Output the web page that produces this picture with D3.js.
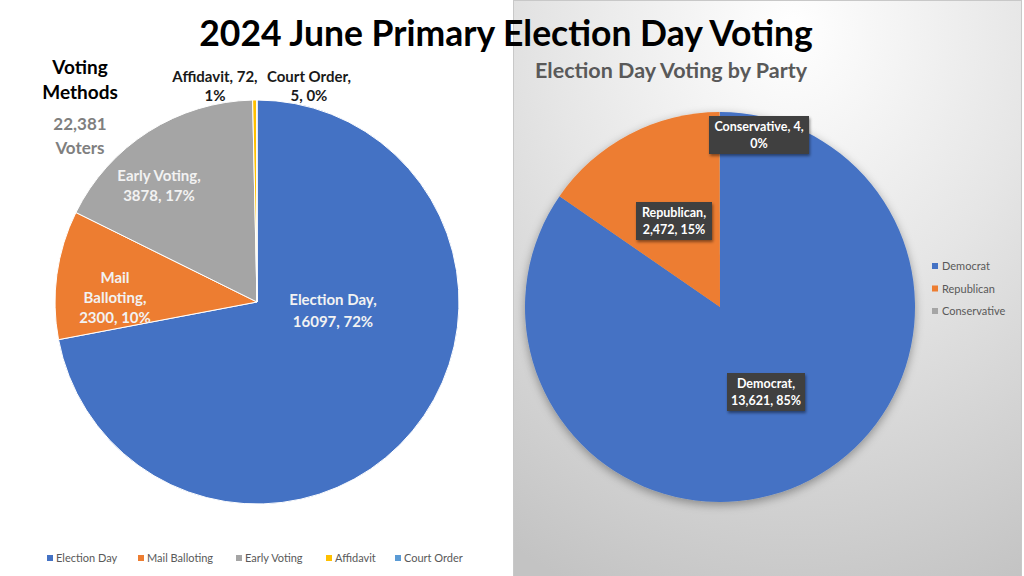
<!DOCTYPE html>
<html>
<head>
<meta charset="utf-8">
<script src="https://cdn.jsdelivr.net/npm/d3@7"></script>
<style>
  html, body { margin: 0; padding: 0; background: #fff; }
  svg { display: block; font-family: Lato, "Open Sans", sans-serif; }
</style>
</head>
<body>
<svg id="chart" width="1024" height="576"></svg>
<script>
'use strict'

// voting methods (left pie)
const methods = ['Election Day', 'Mail Balloting', 'Early Voting', 'Affidavit', 'Court Order'];
const methodVotes = [16097, 2300, 3878, 72, 5];
const methodPct = ['72%', '10%', '17%', '1%', '0%'];
const methodColors = ['#4472c4', '#ed7d31', '#a5a5a5', '#ffc000', '#5b9bd5'];

// election day by party (right pie)
const parties = ['Democrat', 'Republican', 'Conservative'];
const partyVotes = [13621, 2472, 4];
const partyPct = ['85%', '15%', '0%'];
const partyColors = ['#4472c4', '#ed7d31', '#a5a5a5'];

const totalVoters = '22,381';

const svg = d3.select('#chart');
const defs = svg.append('defs');

// right panel background
const grad = defs.append('radialGradient')
  .attr('id', 'panelBg')
  .attr('cx', '0.55').attr('cy', '0.05').attr('r', '1.05');
grad.append('stop').attr('offset', '0').attr('stop-color', '#ffffff');
grad.append('stop').attr('offset', '0.45').attr('stop-color', '#e6e6e6');
grad.append('stop').attr('offset', '1').attr('stop-color', '#c3c3c3');

const shadow = defs.append('filter').attr('id', 'pieShadow')
  .attr('x', '-20%').attr('y', '-20%').attr('width', '140%').attr('height', '140%');
shadow.append('feDropShadow')
  .attr('dx', 0).attr('dy', 3).attr('stdDeviation', 5)
  .attr('flood-color', '#000').attr('flood-opacity', 0.35);

const boxShadow = defs.append('filter').attr('id', 'boxShadow')
  .attr('x', '-20%').attr('y', '-30%').attr('width', '140%').attr('height', '160%');
boxShadow.append('feDropShadow')
  .attr('dx', 1).attr('dy', 2).attr('stdDeviation', 1.5)
  .attr('flood-color', '#000').attr('flood-opacity', 0.45);

svg.append('rect')
  .attr('x', 513.5).attr('y', 0.5).attr('width', 508).attr('height', 580)
  .attr('fill', 'url(#panelBg)')
  .attr('stroke', '#c8c8c8');

// title
svg.append('text')
  .attr('x', 506).attr('y', 46)
  .attr('text-anchor', 'middle')
  .attr('font-size', 35.5).attr('font-weight', 700).attr('fill', '#000')
  .text('2024 June Primary Election Day Voting');

const pie = d3.pie().sort(null).value(d => d);

// ---------- left pie ----------
const lcx = 257, lcy = 302, lr = 202;
const leftArc = d3.arc().innerRadius(0).outerRadius(lr);
const gl = svg.append('g').attr('transform', `translate(${lcx},${lcy})`);

gl.selectAll('path')
  .data(pie(methodVotes))
  .join('path')
  .attr('d', leftArc)
  .attr('fill', (d, i) => methodColors[i])
  .attr('stroke', '#fff')
  .attr('stroke-width', 1);

// label offsets from the pie centre (first line centre)
const leftLabels = [
  { dx: 76, dy: -2, gap: 22, lines: [methods[0] + ',', methodVotes[0] + ', ' + methodPct[0]], fill: '#f2f2f2' },
  { dx: -142, dy: -24, gap: 20, lines: ['Mail', 'Balloting,', methodVotes[1] + ', ' + methodPct[1]], fill: '#f2f2f2' },
  { dx: -98, dy: -126, gap: 20, lines: [methods[2] + ',', methodVotes[2] + ', ' + methodPct[2]], fill: '#f2f2f2' },
  { dx: -42, dy: -225, gap: 19, lines: [methods[3] + ', ' + methodVotes[3] + ',', methodPct[3]], fill: '#1a1a1a' },
  { dx: 52, dy: -225, gap: 19, lines: [methods[4] + ',', methodVotes[4] + ', ' + methodPct[4]], fill: '#1a1a1a' }
];

leftLabels.forEach(l => {
  const t = gl.append('text')
    .attr('text-anchor', 'middle')
    .attr('font-size', 15).attr('font-weight', 700)
    .attr('fill', l.fill);
  l.lines.forEach((s, k) => {
    t.append('tspan')
      .attr('x', l.dx)
      .attr('y', l.dy + k * l.gap + 5)
      .text(s);
  });
});

// side note
const note = svg.append('g').attr('text-anchor', 'middle').attr('font-weight', 700);
note.append('text').attr('x', 80).attr('y', 74).attr('font-size', 19).attr('fill', '#000').text('Voting');
note.append('text').attr('x', 80).attr('y', 99).attr('font-size', 19).attr('fill', '#000').text('Methods');
note.append('text').attr('x', 80).attr('y', 130).attr('font-size', 17).attr('fill', '#7f7f7f').text(totalVoters);
note.append('text').attr('x', 80).attr('y', 154).attr('font-size', 17).attr('fill', '#7f7f7f').text('Voters');

// bottom legend
const legPos = [47, 138, 236, 326, 395];
const legL = svg.append('g').attr('font-size', 11).attr('fill', '#595959');
methods.forEach((m, i) => {
  const x = legPos[i];
  legL.append('rect').attr('x', x).attr('y', 555).attr('width', 6).attr('height', 6).attr('fill', methodColors[i]);
  legL.append('text').attr('x', x + 9).attr('y', 562).text(m);
});

// ---------- right pie ----------
svg.append('text')
  .attr('x', 535).attr('y', 78)
  .attr('font-size', 21.5).attr('font-weight', 700).attr('fill', '#595959')
  .text('Election Day Voting by Party');

const rcx = 720, rcy = 307, rr = 195;
const rightArc = d3.arc().innerRadius(0).outerRadius(rr);
const gr = svg.append('g').attr('transform', `translate(${rcx},${rcy})`);

gr.append('g').attr('filter', 'url(#pieShadow)')
  .selectAll('path')
  .data(pie(partyVotes))
  .join('path')
  .attr('d', rightArc)
  .attr('fill', (d, i) => partyColors[i]);

const fmt = d3.format(',');
const rightLabels = [
  { cx: 46, cy: 85, w: 78, lines: [parties[0] + ',', fmt(partyVotes[0]) + ', ' + partyPct[0]] },
  { cx: -46, cy: -86, w: 76, lines: [parties[1] + ',', fmt(partyVotes[1]) + ', ' + partyPct[1]] },
  { cx: 39, cy: -172, w: 100, lines: [parties[2] + ', ' + partyVotes[2] + ',', partyPct[2]] }
];

rightLabels.forEach(l => {
  const g = gr.append('g').attr('transform', `translate(${l.cx},${l.cy})`);
  g.append('rect')
    .attr('x', -l.w / 2).attr('y', -19).attr('width', l.w).attr('height', 38)
    .attr('fill', '#404040').attr('filter', 'url(#boxShadow)');
  const t = g.append('text')
    .attr('text-anchor', 'middle')
    .attr('font-size', 12.5).attr('font-weight', 700).attr('fill', '#fff');
  l.lines.forEach((s, k) => {
    t.append('tspan').attr('x', 0).attr('y', -4 + k * 17).text(s);
  });
});

// right legend
const legR = svg.append('g').attr('font-size', 11).attr('fill', '#595959');
const legY = d3.scalePoint().domain(parties).range([266, 311]);
parties.forEach((p, i) => {
  const y = legY(p);
  legR.append('rect').attr('x', 932).attr('y', y - 3).attr('width', 6).attr('height', 6).attr('fill', partyColors[i]);
  legR.append('text').attr('x', 942).attr('y', y + 4).text(p);
});
</script>
</body>
</html>
